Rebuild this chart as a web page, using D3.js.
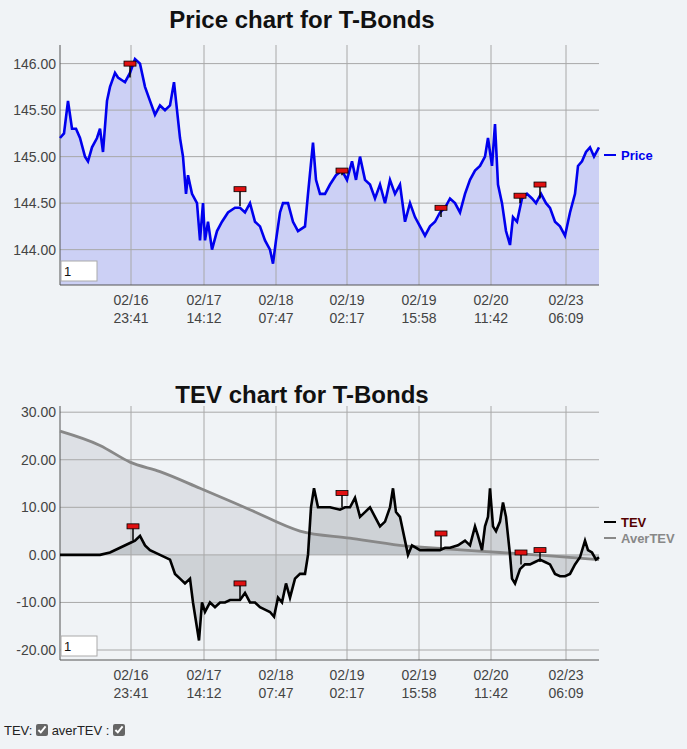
<!DOCTYPE html>
<html><head><meta charset="utf-8">
<script src="https://cdn.jsdelivr.net/npm/d3@7"></script>
<style>
body{margin:0;background:#f0f3f6;font-family:"Liberation Sans",Arial,sans-serif;}
</style></head><body>
<svg id="c" width="687" height="720"></svg>
<div style="position:absolute;left:4px;top:723px;font-size:13px;color:#222">TEV: <input type="checkbox" checked style="margin:0;width:12px;height:12px;vertical-align:-1px;filter:grayscale(1)"> averTEV : <input type="checkbox" checked style="margin:0;width:12px;height:12px;vertical-align:-1px;filter:grayscale(1)"></div>
<script>
const priceT = [0,4,8,12,16,20,25,28,32,37,40,43,47,50,55,58,65,70,75,80,85,90,95,100,105,110,114,117,120,123,126,128,132,137,140,143,145,148,152,157,162,168,175,180,185,190,195,200,205,210,213,216,220,223,228,233,238,245,248,253,256,260,265,270,276,282,287,292,296,300,305,310,315,320,325,330,335,340,345,350,355,360,365,370,375,380,385,390,395,400,405,410,415,420,425,428,432,435,438,442,446,450,453,457,462,467,472,476,481,486,490,495,500,505,510,515,518,522,526,530,534,539];
const priceV = [145.2,145.25,145.6,145.3,145.3,145.2,145.0,144.95,145.1,145.2,145.3,145.05,145.6,145.75,145.9,145.85,145.8,145.9,146.05,146.0,145.75,145.6,145.45,145.55,145.5,145.55,145.8,145.5,145.2,145.0,144.6,144.8,144.6,144.5,144.1,144.5,144.1,144.3,144.0,144.2,144.3,144.4,144.45,144.45,144.4,144.5,144.3,144.25,144.1,144.0,143.85,144.1,144.4,144.5,144.5,144.3,144.2,144.25,144.6,145.15,144.75,144.6,144.6,144.7,144.8,144.85,144.75,144.95,144.75,145.0,144.75,144.7,144.55,144.7,144.5,144.75,144.6,144.7,144.3,144.5,144.35,144.25,144.15,144.25,144.3,144.4,144.45,144.55,144.5,144.4,144.6,144.75,144.85,144.9,145.0,145.2,144.9,145.35,144.7,144.5,144.2,144.05,144.35,144.3,144.55,144.6,144.55,144.5,144.6,144.5,144.45,144.3,144.25,144.15,144.4,144.6,144.9,144.95,145.05,145.1,145.0,145.1];
const tevT = [0,20,40,50,60,70,75,80,85,90,100,110,115,120,125,130,133,136,139,142,145,150,155,160,165,170,180,185,190,195,200,205,210,214,218,222,226,230,235,240,245,248,251,254,258,265,270,280,285,290,295,300,305,310,315,320,325,330,333,336,340,345,348,352,360,370,380,385,390,398,405,410,415,418,422,425,428,430,433,436,440,443,446,450,452,455,460,465,470,475,480,485,490,495,500,505,510,515,520,525,528,532,536,539];
const tevV = [0,0,0,0.5,1.5,2.5,3,4,2,1,0,-1,-4,-5,-6,-5,-10,-14,-18,-10,-12,-10,-11,-10,-10,-9.5,-9.5,-8,-10,-10,-11,-11.5,-12,-13,-9,-10,-6,-9,-5,-4,-4,0,10,14,10,10,10,9.5,10,10,12,8,9,10,8,6,7,10,14,9,8,3,0,2,1,1,1,1.5,1.5,2,3,2,6,4,1,6,8,14,6,5,7,11,8,0,-5,-6,-3,-2,-2,-1.5,-1,-1.5,-2,-4,-4.5,-4.5,-4,-2,-0.5,3,1,0.5,-1,-0.5];
const averT = [0,40,70,100,140,190,240,290,340,390,440,490,539];
const averV = [26,23,19.5,17.5,14,9.5,5,3.5,2,1.2,0.5,-0.2,-1];
const priceMarks = [[70,146.0],[180,144.65],[282,144.85],[381,144.45],[460,144.58],[480,144.7]];
const priceMarkPts = [[70,145.85],[180,144.47],[282,144.8],[381,144.35],[460,144.5],[480,144.55]];
const tevMarks = [[73,6],[180,-6],[282,13],[381,4.5],[461,0.5],[480,1]];
const tevMarkPts = [[73,3],[180,-9.5],[282,10],[381,1],[461,-2],[480,-1.5]];
const tickT = [71,144,216,287,359,431,506];
const tickLabels = [["02/16","23:41"],["02/17","14:12"],["02/18","07:47"],["02/19","02:17"],["02/19","15:58"],["02/20","11:42"],["02/23","06:09"]];
const priceTicks = [144.0,144.5,145.0,145.5,146.0];
const tevTicks = [-20,-10,0,10,20,30];

const svg = d3.select("#c");
const X0=60,X1=599;
const x = d3.scaleLinear().domain([0,539]).range([X0,X1]);

function panel(top,bottom,domain,ticks,title,titleY){
  const y = d3.scaleLinear().domain(domain).range([bottom,top]);
  const g = svg.append("g");
  g.append("text").attr("x",302).attr("y",titleY).attr("text-anchor","middle")
    .attr("font-size",24).attr("font-weight","bold").attr("fill","#111").text(title);
  ticks.forEach(v=>{
    g.append("line").attr("x1",X0).attr("x2",X1).attr("y1",y(v)).attr("y2",y(v)).attr("stroke","#a8a8a8");
    g.append("text").attr("x",X0-4).attr("y",y(v)+5).attr("text-anchor","end").attr("font-size",14).attr("fill","#444").text(v.toFixed(2));
  });
  tickT.forEach((t,i)=>{
    g.append("line").attr("x1",x(t)).attr("x2",x(t)).attr("y1",top).attr("y2",bottom).attr("stroke","#a8a8a8");
    g.append("text").attr("x",x(t)).attr("y",bottom+20).attr("text-anchor","middle").attr("font-size",14).attr("fill","#444").text(tickLabels[i][0]);
    g.append("text").attr("x",x(t)).attr("y",bottom+38).attr("text-anchor","middle").attr("font-size",14).attr("fill","#444").text(tickLabels[i][1]);
  });
  g.append("line").attr("x1",X0).attr("x2",X0).attr("y1",top).attr("y2",bottom).attr("stroke","#555");
  g.append("line").attr("x1",X0).attr("x2",X1).attr("y1",bottom).attr("y2",bottom).attr("stroke","#555");
  return {g,y};
}
function flags(g,y,marks,pts){
  marks.forEach((m,i)=>{
    g.append("line").attr("x1",x(m[0])).attr("x2",x(pts[i][0])).attr("y1",y(m[1])).attr("y2",y(pts[i][1])).attr("stroke","#000").attr("stroke-width",1.5);
    g.append("rect").attr("x",x(m[0])-6).attr("y",y(m[1])-2.5).attr("width",12).attr("height",5).attr("fill","#e01010").attr("stroke","#000").attr("stroke-width",0.8);
  });
}
function inputBox(top){
  svg.append("rect").attr("x",61).attr("y",top).attr("width",36).attr("height",20).attr("fill","#fff").attr("stroke","#aaa");
  svg.append("text").attr("x",64).attr("y",top+15).attr("font-size",13).attr("fill","#111").text("1");
}

const p = panel(45,285,[143.62,146.2],priceTicks,"Price chart for T-Bonds",28);
const pd = priceT.map((t,i)=>[t,priceV[i]]);
p.g.insert("path",":first-child").datum(pd).attr("fill","#ccd0f5")
  .attr("d",d3.area().x(d=>x(d[0])).y0(285).y1(d=>p.y(d[1])));
p.g.append("path").datum(pd).attr("fill","none").attr("stroke","#0000ee").attr("stroke-width",2.6)
  .attr("d",d3.line().x(d=>x(d[0])).y(d=>p.y(d[1])));
flags(p.g,p.y,priceMarks,priceMarkPts);
inputBox(261);
svg.append("line").attr("x1",604).attr("x2",616).attr("y1",155).attr("y2",155).attr("stroke","#0000ee").attr("stroke-width",2);
svg.append("text").attr("x",621).attr("y",160).attr("font-size",13).attr("font-weight","bold").attr("fill","#0000ee").text("Price");

const q = panel(406,660,[-22.1,31.3],tevTicks,"TEV chart for T-Bonds",403);
const ad = averT.map((t,i)=>[t,averV[i]]);
const td = tevT.map((t,i)=>[t,tevV[i]]);
q.g.insert("path",":first-child").datum(ad).attr("fill","#9aa0a8").attr("fill-opacity",0.22)
  .attr("d",d3.area().curve(d3.curveMonotoneX).x(d=>x(d[0])).y0(q.y(0)).y1(d=>q.y(d[1])));
q.g.insert("path",":first-child").datum(td).attr("fill","#9aa0a8").attr("fill-opacity",0.4)
  .attr("d",d3.area().x(d=>x(d[0])).y0(q.y(0)).y1(d=>q.y(d[1])));
q.g.append("path").datum(ad).attr("fill","none").attr("stroke","#888").attr("stroke-width",2.8)
  .attr("d",d3.line().curve(d3.curveMonotoneX).x(d=>x(d[0])).y(d=>q.y(d[1])));
q.g.append("path").datum(td).attr("fill","none").attr("stroke","#000").attr("stroke-width",2.6)
  .attr("d",d3.line().x(d=>x(d[0])).y(d=>q.y(d[1])));
flags(q.g,q.y,tevMarks,tevMarkPts);
inputBox(636);
svg.append("line").attr("x1",604).attr("x2",616).attr("y1",522).attr("y2",522).attr("stroke","#000").attr("stroke-width",2);
svg.append("text").attr("x",621).attr("y",527).attr("font-size",13).attr("font-weight","bold").attr("fill","#500").text("TEV");
svg.append("line").attr("x1",604).attr("x2",616).attr("y1",538).attr("y2",538).attr("stroke","#888").attr("stroke-width",2);
svg.append("text").attr("x",621).attr("y",543).attr("font-size",13).attr("font-weight","bold").attr("fill","#888").text("AverTEV");
</script></body></html>
